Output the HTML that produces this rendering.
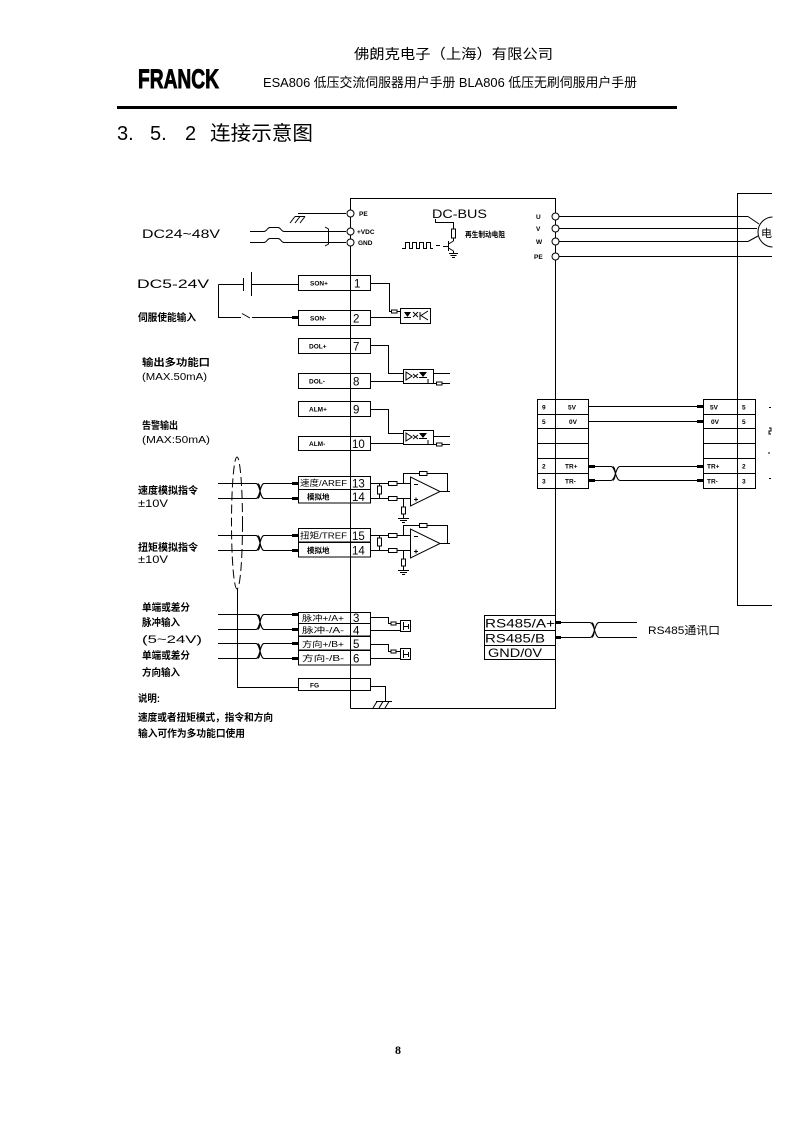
<!DOCTYPE html>
<html><head><meta charset="utf-8"><style>
html,body{margin:0;padding:0;background:#fff}
svg{display:block}
text{font-family:"Liberation Sans","Noto Sans CJK SC",sans-serif;fill:#000}
.l{stroke:#000;stroke-width:1;fill:none}
.f{fill:#000;stroke:none}
.wb{fill:#fff;stroke:#000;stroke-width:1}
.s{font-size:6.5px;font-weight:bold}
.n{font-size:11.5px}
.c{font-size:10px;font-weight:bold}
</style></head><body>
<svg width="794" height="1123" viewBox="0 0 794 1123" xmlns="http://www.w3.org/2000/svg">
<rect width="794" height="1123" fill="#fff"/>
<!-- header -->
<text x="354" y="59" font-size="14" textLength="199" lengthAdjust="spacingAndGlyphs">佛朗克电子（上海）有限公司</text>
<text x="138" y="88" font-size="27" font-weight="bold" stroke="#000" stroke-width="0.9" textLength="81" lengthAdjust="spacingAndGlyphs">FRANCK</text>
<text x="263" y="87" font-size="13" textLength="374" lengthAdjust="spacingAndGlyphs">ESA806 低压交流伺服器用户手册 BLA806 低压无刷伺服用户手册</text>
<rect x="117" y="106" width="560" height="3" fill="#000"/>
<text x="117" y="140" font-size="20">3.</text>
<text x="150" y="140" font-size="20">5.</text>
<text x="185" y="140" font-size="20">2</text>
<text x="210" y="140" font-size="20" textLength="103" lengthAdjust="spacingAndGlyphs">连接示意图</text>

<g shape-rendering="crispEdges">
<!-- main drive box -->
<path class="l" d="M350.5 708.5 V198.5 H555.5 V708.5 H350.5"/>

<!-- power input -->
<path class="l" d="M298 213.5 H346"/>
<path class="l" d="M295 216.5 H305"/>
<path class="l" shape-rendering="geometricPrecision" d="M290 223 L295 216.5 M295 223 L300 216.5 M300 223 L305 216.5"/>
<path class="l" shape-rendering="geometricPrecision" d="M250 231.5 H264 C267 231.5 267 227.5 270 227.5 H278 C281 227.5 281 231.5 284 231.5 H346"/>
<path class="l" shape-rendering="geometricPrecision" d="M250 242.5 H264 C267 242.5 267 238.5 270 238.5 H278 C281 238.5 281 242.5 284 242.5 H346"/>
<path class="l" shape-rendering="geometricPrecision" d="M325 227 L328.5 229 V244 L325 246"/>
<circle class="wb" cx="350.5" cy="213.5" r="3.5" shape-rendering="geometricPrecision"/>
<circle class="wb" cx="350.5" cy="231.5" r="3.5" shape-rendering="geometricPrecision"/>
<circle class="wb" cx="350.5" cy="242.5" r="3.5" shape-rendering="geometricPrecision"/>
<text x="359" y="216" class="s">PE</text>
<text x="357" y="234" class="s">+VDC</text>
<text x="358" y="245" class="s">GND</text>
<text x="142" y="238" font-size="12" textLength="78" lengthAdjust="spacingAndGlyphs">DC24~48V</text>

<!-- DC5-24V / SON -->
<text x="137" y="288" font-size="12" textLength="72" lengthAdjust="spacingAndGlyphs">DC5-24V</text>
<text x="138" y="321" class="c" textLength="58" lengthAdjust="spacingAndGlyphs">伺服使能输入</text>
<path class="l" d="M218.5 284.5 H243.5 M243.5 278 V291 M251.5 272 V296 M251.5 284.5 H298"/>
<path class="l" d="M218.5 284.5 V317.5 H241"/>
<path class="l" shape-rendering="geometricPrecision" d="M242 313.5 L250 318"/>
<path class="l" d="M252 317.5 H292"/>
<rect x="292" y="316" width="6" height="3" class="f"/>

<!-- left terminal boxes -->
<g>
<rect class="l" x="298.5" y="275.5" width="72" height="15"/><text x="310" y="285.5" class="s">SON+</text><text x="354" y="287.5" class="n">1</text>
<rect class="l" x="298.5" y="310.5" width="72" height="15"/><text x="310" y="320.5" class="s">SON-</text><text x="353" y="322.5" class="n">2</text>
<rect class="l" x="298.5" y="338.5" width="72" height="15"/><text x="309" y="348.5" class="s">DOL+</text><text x="353" y="350.5" class="n">7</text>
<rect class="l" x="298.5" y="373.5" width="72" height="15"/><text x="309" y="383.5" class="s">DOL-</text><text x="353" y="385.5" class="n">8</text>
<rect class="l" x="298.5" y="401.5" width="72" height="15"/><text x="309" y="411.5" class="s">ALM+</text><text x="353" y="413.5" class="n">9</text>
<rect class="l" x="298.5" y="436.5" width="72" height="14"/><text x="309" y="446" class="s">ALM-</text><text x="352" y="448" class="n">10</text>

<rect class="l" x="298.5" y="476.5" width="72" height="13"/><text x="300" y="486" font-size="8.5" textLength="47" lengthAdjust="spacingAndGlyphs">速度/AREF</text><text x="352" y="487.5" class="n">13</text>
<rect class="l" x="298.5" y="489.5" width="72" height="13.5"/><text x="307" y="499.5" font-size="7.5" font-weight="bold">模拟地</text><text x="352" y="501" class="n">14</text>
<rect class="l" x="298.5" y="528.5" width="72" height="13.5"/><text x="300" y="538.5" font-size="8.5" textLength="47" lengthAdjust="spacingAndGlyphs">扭矩/TREF</text><text x="352" y="540" class="n">15</text>
<rect class="l" x="298.5" y="542.5" width="72" height="14.5"/><text x="307" y="553" font-size="7.5" font-weight="bold">模拟地</text><text x="352" y="554.5" class="n">14</text>

<rect class="l" x="298.5" y="612.5" width="72" height="11"/><text x="302" y="621" font-size="8" textLength="42" lengthAdjust="spacingAndGlyphs">脉冲+/A+</text><text x="353" y="622" class="n">3</text>
<rect class="l" x="298.5" y="623.5" width="72" height="12.5"/><text x="302" y="633" font-size="8" textLength="42" lengthAdjust="spacingAndGlyphs">脉冲-/A-</text><text x="353" y="634.5" class="n">4</text>
<rect class="l" x="298.5" y="636.5" width="72" height="13.5"/><text x="302" y="647" font-size="8" textLength="42" lengthAdjust="spacingAndGlyphs">方向+/B+</text><text x="353" y="648" class="n">5</text>
<rect class="l" x="298.5" y="650.5" width="72" height="14.5"/><text x="302" y="661" font-size="8" textLength="42" lengthAdjust="spacingAndGlyphs">方向-/B-</text><text x="353" y="662.5" class="n">6</text>
<rect class="l" x="298.5" y="678.5" width="72" height="12"/><text x="310" y="687.5" class="s">FG</text>
</g>

<!-- SON opto -->
<path class="l" d="M371 283.5 H389.5 V311.5 H391 M397 311.5 H400 M371 317.5 H400"/>
<rect class="wb" x="391.5" y="310" width="5.5" height="3"/>
<rect class="l" x="400.5" y="308.5" width="30" height="15"/>
<polygon class="f" points="404,312 411,312 407.5,317" shape-rendering="geometricPrecision"/>
<path class="l" shape-rendering="geometricPrecision" d="M404 317.5 H411 M413 312 L418 317 M418 312 L413 317 M420 312 V320 M428 311 L421 315.5 L428 320"/>

<!-- DOL opto -->
<path class="l" d="M371 345.5 H388.5 V373.5 H403 M371 381.5 H403"/>
<rect class="l" x="403.5" y="369.5" width="30" height="14"/>
<path class="l" shape-rendering="geometricPrecision" d="M406 372 V380 L412 376 Z M413 374 L418 378 M418 374 L413 378"/>
<polygon class="f" points="419,372 427,372 423,377" shape-rendering="geometricPrecision"/>
<path class="l" d="M419 377.5 H427 M433 373.5 H450 M428 379 V383.5 H436 M442 383.5 H450"/>
<rect class="wb" x="436.5" y="382" width="5.5" height="3"/>

<!-- ALM opto -->
<path class="l" d="M371 409.5 H388.5 V433.5 H403 M371 443.5 H403"/>
<rect class="l" x="403.5" y="430.5" width="30" height="14"/>
<path class="l" shape-rendering="geometricPrecision" d="M406 433 V441 L412 437 Z M413 435 L418 439 M418 435 L413 439"/>
<polygon class="f" points="419,433 427,433 423,438" shape-rendering="geometricPrecision"/>
<path class="l" d="M419 438.5 H427 M433 436.5 H450 M428 440 V444.5 H436 M442 444.5 H450"/>
<rect class="wb" x="436.5" y="443" width="5.5" height="3"/>

<text x="142" y="366" class="c" textLength="68" lengthAdjust="spacingAndGlyphs">输出多功能口</text>
<text x="142" y="380" font-size="10" textLength="65" lengthAdjust="spacingAndGlyphs">(MAX.50mA)</text>
<text x="142" y="429" class="c" textLength="36" lengthAdjust="spacingAndGlyphs">告警输出</text>
<text x="142" y="443" font-size="10" textLength="68" lengthAdjust="spacingAndGlyphs">(MAX:50mA)</text>

<!-- analog inputs -->
<text x="138" y="494" class="c" textLength="60" lengthAdjust="spacingAndGlyphs">速度模拟指令</text>
<text x="138" y="507" font-size="11" textLength="30" lengthAdjust="spacingAndGlyphs">±10V</text>
<text x="138" y="551" class="c" textLength="60" lengthAdjust="spacingAndGlyphs">扭矩模拟指令</text>
<text x="138" y="563" font-size="11" textLength="30" lengthAdjust="spacingAndGlyphs">±10V</text>

<g id="pairA">
<path class="l" d="M218 483.5 H256 M264 483.5 H292 M218 498.5 H256 M264 498.5 H292"/>
<path class="l" shape-rendering="geometricPrecision" d="M256 483.5 C260 483.5 260 498.5 264 498.5 M256 498.5 C260 498.5 260 483.5 264 483.5 M258 483.5 C261 486 261 496 258 498.5"/>
<rect x="292" y="482" width="6" height="3" class="f"/>
<rect x="292" y="497" width="6" height="3" class="f"/>
</g>
<g transform="translate(0,52)">
<path class="l" d="M218 483.5 H256 M264 483.5 H292 M218 498.5 H256 M264 498.5 H292"/>
<path class="l" shape-rendering="geometricPrecision" d="M256 483.5 C260 483.5 260 498.5 264 498.5 M256 498.5 C260 498.5 260 483.5 264 483.5 M258 483.5 C261 486 261 496 258 498.5"/>
<rect x="292" y="482" width="6" height="3" class="f"/>
<rect x="292" y="497" width="6" height="3" class="f"/>
</g>

<!-- op amp circuits -->
<g id="amp1">
<path class="l" d="M371 483.5 H388 M397 483.5 H410 M371 498.5 H388 M397 498.5 H410 M379.5 483.5 V486 M379.5 494 V498.5 M403.5 483.5 V473.5 H419 M427 473.5 H447.5 V491.5 M440 491.5 H450 M403.5 498.5 V507 M403.5 514 V518 M398 518.5 H409 M400 520.5 H407 M402 522.5 H405"/>
<rect class="wb" x="388.5" y="481.5" width="8.5" height="4"/>
<rect class="wb" x="388.5" y="496.5" width="8.5" height="4"/>
<rect class="wb" x="377.5" y="486" width="4" height="8"/>
<rect class="wb" x="419.5" y="471.5" width="7.5" height="4"/>
<rect class="wb" x="401.5" y="507" width="4" height="7"/>
<polygon class="wb" points="410.5,477 410.5,506 440,491.5" shape-rendering="geometricPrecision"/>
<path class="l" d="M414 484.5 H418 M414 499.5 H418 M416 497.5 V501.5"/>
</g>
<g transform="translate(0,52)">
<path class="l" d="M371 483.5 H388 M397 483.5 H410 M371 498.5 H388 M397 498.5 H410 M379.5 483.5 V486 M379.5 494 V498.5 M403.5 483.5 V473.5 H419 M427 473.5 H447.5 V491.5 M440 491.5 H450 M403.5 498.5 V507 M403.5 514 V518 M398 518.5 H409 M400 520.5 H407 M402 522.5 H405"/>
<rect class="wb" x="388.5" y="481.5" width="8.5" height="4"/>
<rect class="wb" x="388.5" y="496.5" width="8.5" height="4"/>
<rect class="wb" x="377.5" y="486" width="4" height="8"/>
<rect class="wb" x="419.5" y="471.5" width="7.5" height="4"/>
<rect class="wb" x="401.5" y="507" width="4" height="7"/>
<polygon class="wb" points="410.5,477 410.5,506 440,491.5" shape-rendering="geometricPrecision"/>
<path class="l" d="M414 484.5 H418 M414 499.5 H418 M416 497.5 V501.5"/>
</g>

<!-- shield ellipse -->
<ellipse cx="237" cy="523" rx="5.5" ry="66" fill="none" stroke="#000" stroke-width="1" stroke-dasharray="9,4" shape-rendering="geometricPrecision"/>
<path class="l" d="M237.5 589 V687.5 H298"/>

<!-- pulse inputs -->
<text x="142" y="611" class="c" textLength="48" lengthAdjust="spacingAndGlyphs">单端或差分</text>
<text x="142" y="626" class="c" textLength="38" lengthAdjust="spacingAndGlyphs">脉冲输入</text>
<text x="142" y="643" font-size="11" textLength="60" lengthAdjust="spacingAndGlyphs">(5~24V)</text>
<text x="142" y="659" class="c" textLength="48" lengthAdjust="spacingAndGlyphs">单端或差分</text>
<text x="142" y="676" class="c" textLength="38" lengthAdjust="spacingAndGlyphs">方向输入</text>
<text x="138" y="702" class="c" textLength="22" lengthAdjust="spacingAndGlyphs">说明:</text>
<text x="138" y="721" class="c" textLength="135" lengthAdjust="spacingAndGlyphs">速度或者扭矩模式，指令和方向</text>
<text x="138" y="737" class="c" textLength="107" lengthAdjust="spacingAndGlyphs">输入可作为多功能口使用</text>

<g>
<path class="l" d="M218 614.5 H256 M264 614.5 H292 M218 629.5 H256 M264 629.5 H292"/>
<path class="l" shape-rendering="geometricPrecision" d="M256 614.5 C260 614.5 260 629.5 264 629.5 M256 629.5 C260 629.5 260 614.5 264 614.5 M258 614.5 C261 617 261 627 258 629.5"/>
<rect x="292" y="613" width="6" height="3" class="f"/>
<rect x="292" y="628" width="6" height="3" class="f"/>
<path class="l" d="M218 643.5 H256 M264 643.5 H292 M218 658.5 H256 M264 658.5 H292"/>
<path class="l" shape-rendering="geometricPrecision" d="M256 643.5 C260 643.5 260 658.5 264 658.5 M256 658.5 C260 658.5 260 643.5 264 643.5 M258 643.5 C261 646 261 656 258 658.5"/>
<rect x="292" y="642" width="6" height="3" class="f"/>
<rect x="292" y="657" width="6" height="3" class="f"/>
</g>
<path class="l" d="M371 617.5 H388.5 V623.5 H391 M396 623.5 H400 M371 630.5 H400"/>
<rect class="wb" x="391" y="622" width="5" height="3"/>
<rect class="l" x="400.5" y="620.5" width="10" height="11"/>
<path class="l" d="M403.5 622 V630 M403.5 626.5 H408 M408.5 624 V629"/>
<path class="l" d="M371 644.5 H388.5 V651.5 H391 M396 651.5 H400 M371 658.5 H400"/>
<rect class="wb" x="391" y="650" width="5" height="3"/>
<rect class="l" x="400.5" y="648.5" width="10" height="11"/>
<path class="l" d="M403.5 650 V658 M403.5 654.5 H408 M408.5 652 V657"/>

<!-- FG ground -->
<path class="l" d="M371 686.5 H385.5 V701.5 M376 701.5 H392"/>
<path class="l" shape-rendering="geometricPrecision" d="M373 708 L377 701.5 M379 708 L383 701.5 M385 708 L389 701.5"/>

<!-- DC-BUS -->
<text x="432" y="218" font-size="12" textLength="55" lengthAdjust="spacingAndGlyphs">DC-BUS</text>
<path class="l" d="M435.5 219 V222.5 H453.5 V229 M453.5 238 V241"/>
<rect class="wb" x="451.5" y="229" width="4" height="9"/>
<path class="l" d="M448.5 241 V251 M443 246.5 H448"/>
<path class="l" shape-rendering="geometricPrecision" d="M448.5 244 L453.5 241 M448.5 248 L453.5 251"/>
<path class="l" d="M453.5 251 V253.5 M449 253.5 H458 M450.5 255.5 H456.5 M452 257.5 H455"/>
<path class="l" d="M402 248.5 H405.5 V242.5 H409.5 V248.5 H412.5 V242.5 H416.5 V248.5 H419.5 V242.5 H423.5 V248.5 H426.5 V242.5 H430.5 V248.5 H433 M436 245.5 H440"/>
<text x="465" y="237" font-size="7.5" font-weight="bold" textLength="40" lengthAdjust="spacingAndGlyphs">再生制动电阻</text>

<!-- motor outputs -->
<text x="536" y="219" class="s">U</text>
<text x="536" y="231" class="s">V</text>
<text x="536" y="244" class="s">W</text>
<text x="534" y="259" class="s">PE</text>
<path class="l" d="M559 216.5 H748 M559 228.5 H757 M559 241.5 H748 M559 256.5 H772"/>
<path class="l" shape-rendering="geometricPrecision" d="M748 216.5 L759 224 M748 241.5 L758 236"/>
<circle cx="555.5" cy="216.5" r="3.5" class="wb" shape-rendering="geometricPrecision"/>
<circle cx="555.5" cy="228.5" r="3.5" class="wb" shape-rendering="geometricPrecision"/>
<circle cx="555.5" cy="241.5" r="3.5" class="wb" shape-rendering="geometricPrecision"/>
<circle cx="555.5" cy="256.5" r="3.5" class="wb" shape-rendering="geometricPrecision"/>
<circle cx="773" cy="232" r="15" class="l" shape-rendering="geometricPrecision"/>
<text x="761" y="237" font-size="11">电</text>

<!-- right box -->
<path class="l" d="M772 193.5 H737.5 V605.5 H772"/>

<!-- encoder tables -->
<rect class="wb" x="537.5" y="399.5" width="51" height="89"/>
<path class="l" d="M537.5 414.5 H588.5 M537.5 428.5 H588.5 M537.5 443.5 H588.5 M537.5 458.5 H588.5 M537.5 473.5 H588.5 M555.5 399.5 V488.5"/>
<text x="542" y="409.5" class="s">9</text><text x="568" y="409.5" class="s">5V</text>
<text x="542" y="424" class="s">5</text><text x="569" y="424" class="s">0V</text>
<text x="542" y="468.5" class="s">2</text><text x="565" y="468.5" class="s">TR+</text>
<text x="542" y="483.5" class="s">3</text><text x="565" y="483.5" class="s">TR-</text>

<rect class="wb" x="703.5" y="399.5" width="52" height="89"/>
<path class="l" d="M703.5 414.5 H755.5 M703.5 428.5 H755.5 M703.5 443.5 H755.5 M703.5 458.5 H755.5 M703.5 473.5 H755.5 M737.5 399.5 V488.5"/>
<text x="710" y="409.5" class="s">5V</text><text x="742" y="409.5" class="s">5</text>
<text x="711" y="424" class="s">0V</text><text x="742" y="424" class="s">5</text>
<text x="707" y="468.5" class="s">TR+</text><text x="742" y="468.5" class="s">2</text>
<text x="707" y="483.5" class="s">TR-</text><text x="742" y="483.5" class="s">3</text>

<path class="l" d="M588.5 406.5 H697 M588.5 421.5 H697 M594 466.5 H611 M620 466.5 H697 M594 480.5 H611 M620 480.5 H697"/>
<path class="l" shape-rendering="geometricPrecision" d="M611 466.5 C615.5 466.5 615.5 480.5 620 480.5 M611 480.5 C615.5 480.5 615.5 466.5 620 466.5 M613 466.5 C616 469 616 478 613 480.5"/>
<rect x="697" y="405" width="6" height="3" class="f"/>
<rect x="697" y="420" width="6" height="3" class="f"/>
<rect x="697" y="465" width="6" height="3" class="f"/>
<rect x="697" y="479" width="6" height="3" class="f"/>
<rect x="589" y="465" width="6" height="3" class="f"/>
<rect x="589" y="479" width="6" height="3" class="f"/>
<path class="l" d="M769 407.5 H771 M769 452 V454 M769 478.5 H771 M769 428 H771 V431 H769 V434 H771"/>

<!-- RS485 -->
<rect class="l" x="484.5" y="615.5" width="71" height="44"/>
<path class="l" d="M484.5 630.5 H555.5 M484.5 645.5 H555.5"/>
<text x="485" y="627.5" font-size="12" textLength="70" lengthAdjust="spacingAndGlyphs">RS485/A+</text>
<text x="485" y="642.5" font-size="12" textLength="60" lengthAdjust="spacingAndGlyphs">RS485/B</text>
<text x="488" y="657" font-size="12" textLength="54" lengthAdjust="spacingAndGlyphs">GND/0V</text>
<rect x="556" y="621" width="5" height="3" class="f"/>
<rect x="556" y="636" width="5" height="3" class="f"/>
<path class="l" d="M561 622.5 H590 M599 622.5 H637 M561 637.5 H590 M599 637.5 H637"/>
<path class="l" shape-rendering="geometricPrecision" d="M590 622.5 C594.5 622.5 594.5 637.5 599 637.5 M590 637.5 C594.5 637.5 594.5 622.5 599 622.5 M592 622.5 C595 625 595 635 592 637.5"/>
<text x="648" y="634" font-size="11" textLength="72" lengthAdjust="spacingAndGlyphs">RS485通讯口</text>
</g>

<!-- right crop -->
<rect x="772.5" y="180" width="22" height="440" fill="#fff"/>

<text x="395" y="1054" font-size="12" font-weight="bold" style="font-family:'Liberation Serif',serif">8</text>
</svg>
</body></html>
